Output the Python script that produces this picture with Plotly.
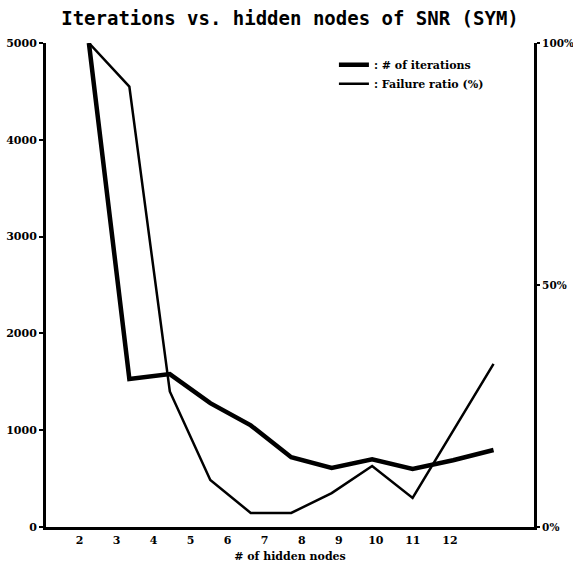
import plotly.graph_objects as go

# data
hidden_nodes = [2, 3, 4, 5, 6, 7, 8, 9, 10, 11, 12]
iterations = [5000, 1530, 1580, 1280, 1050, 720, 610, 700, 600, 690, 795]
failure_ratio = [100, 91, 28, 9.7, 2.9, 2.9, 7, 12.6, 6, 19.7, 33.7]
x_tick_labels = [2, 3, 4, 5, 6, 7, 8, 9, 10, 11, 12]
y_left_ticks = [0, 1000, 2000, 3000, 4000, 5000]
y_right_ticks = [0, 50, 100]
y_right_text = ["0%", "50%", "100%"]

tick_font = dict(family="DejaVu Serif", size=11, color="black", weight="bold")

fig = go.Figure()
fig.add_trace(go.Scatter(
    x=hidden_nodes, y=iterations, mode="lines",
    line=dict(color="black", width=4.5),
    name=": # of iterations", xaxis="x", yaxis="y",
))
fig.add_trace(go.Scatter(
    x=hidden_nodes, y=failure_ratio, mode="lines",
    line=dict(color="black", width=2.5),
    name=": Failure ratio (%)", xaxis="x", yaxis="y2",
))
# carrier for the label axis
fig.add_trace(go.Scatter(
    x=x_tick_labels, y=[0] * len(x_tick_labels), mode="none",
    hoverinfo="skip", showlegend=False, xaxis="x2", yaxis="y",
))

fig.update_layout(
    width=573, height=567,
    margin=dict(l=46, r=39, t=43, b=40, autoexpand=False),
    paper_bgcolor="white", plot_bgcolor="white",
    title=dict(
        text="Iterations vs. hidden nodes of SNR (SYM)",
        font=dict(family="DejaVu Sans Mono", size=19, color="black", weight="bold"),
        x=0.5, xref="paper", xanchor="center",
        y=1 - 18 / 567, yref="container", yanchor="middle",
    ),
    xaxis=dict(
        range=[0.94, 13.0], showticklabels=False, ticks="",
        showline=True, linecolor="black", linewidth=3,
        showgrid=False, zeroline=False, automargin=False,
    ),
    xaxis2=dict(
        overlaying="x", side="bottom",
        range=[1.096, 14.27], tickvals=x_tick_labels,
        ticks="", showline=False, showgrid=False, zeroline=False,
        tickfont=tick_font, automargin=False, ticklabelstandoff=5,
        title=dict(text="# of hidden nodes", font=tick_font, standoff=6),
    ),
    yaxis=dict(
        range=[0, 5000], tickvals=y_left_ticks,
        ticks="outside", ticklen=4, tickwidth=2, tickcolor="black",
        showline=True, linecolor="black", linewidth=3,
        showgrid=False, zeroline=False, tickfont=tick_font, automargin=False,
    ),
    yaxis2=dict(
        overlaying="y", side="right",
        range=[0, 100], tickvals=y_right_ticks, ticktext=y_right_text,
        ticks="outside", ticklen=3, tickwidth=2, tickcolor="black",
        showline=True, linecolor="black", linewidth=3,
        showgrid=False, zeroline=False,
        tickfont=dict(family="DejaVu Serif", size=10.5, color="black", weight="bold"),
        automargin=False,
    ),
    legend=dict(
        x=0.59, y=0.985, xanchor="left", yanchor="top",
        bgcolor="rgba(0,0,0,0)", font=tick_font,
        itemwidth=30, tracegroupgap=0,
    ),
    showlegend=True,
)

fig.write_html(
    "out.html",
    config={"displayModeBar": False},
    post_script="document.body.style.margin='0';document.body.style.padding='0';",
)
